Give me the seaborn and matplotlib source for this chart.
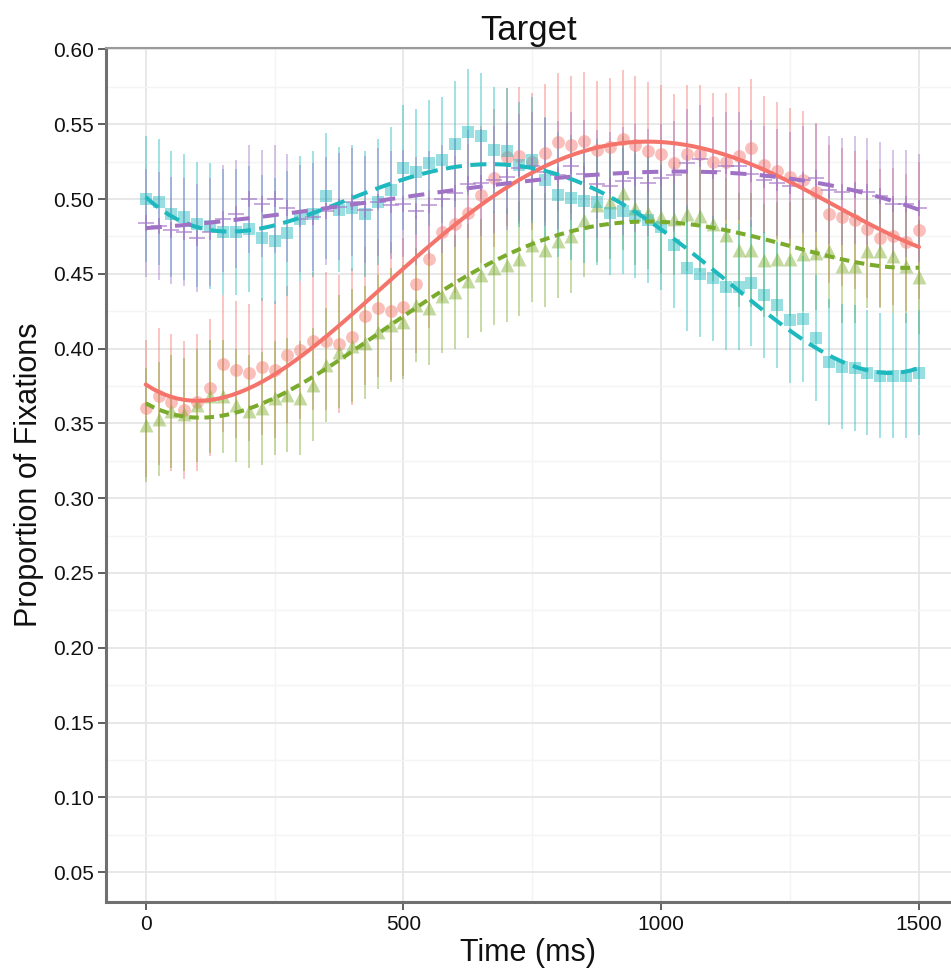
import numpy as np
import pandas as pd
import matplotlib
matplotlib.use("Agg")
import matplotlib.pyplot as plt
from matplotlib.ticker import FixedLocator
import seaborn as sns

# Time bins (ms)
time_ms = list(range(0, 1501, 25))

# Mean proportion of fixations on the target, per condition
cond_a = [0.360, 0.368, 0.364, 0.359, 0.364, 0.374, 0.390, 0.386, 0.384, 0.388,
          0.386, 0.396, 0.399, 0.405, 0.405, 0.403, 0.408, 0.422, 0.427, 0.425,
          0.428, 0.443, 0.460, 0.478, 0.483, 0.491, 0.503, 0.514, 0.528, 0.529,
          0.525, 0.531, 0.538, 0.536, 0.539, 0.533, 0.535, 0.540, 0.536, 0.532,
          0.530, 0.524, 0.530, 0.530, 0.525, 0.525, 0.529, 0.534, 0.523, 0.519,
          0.515, 0.513, 0.505, 0.490, 0.488, 0.486, 0.480, 0.474, 0.475, 0.471,
          0.479]
cond_b = [0.349, 0.353, 0.358, 0.356, 0.362, 0.368, 0.368, 0.362, 0.358, 0.360,
          0.367, 0.369, 0.367, 0.376, 0.389, 0.398, 0.402, 0.404, 0.411, 0.416,
          0.418, 0.429, 0.427, 0.435, 0.438, 0.445, 0.449, 0.454, 0.456, 0.460,
          0.469, 0.466, 0.472, 0.475, 0.486, 0.496, 0.498, 0.504, 0.494, 0.491,
          0.488, 0.487, 0.490, 0.489, 0.483, 0.476, 0.466, 0.466, 0.459, 0.460,
          0.460, 0.463, 0.464, 0.465, 0.455, 0.455, 0.465, 0.465, 0.462, 0.455,
          0.448]
cond_c = [0.500, 0.498, 0.490, 0.488, 0.483, 0.482, 0.478, 0.478, 0.480, 0.474,
          0.472, 0.477, 0.487, 0.490, 0.502, 0.493, 0.494, 0.490, 0.498, 0.506,
          0.521, 0.518, 0.524, 0.526, 0.537, 0.545, 0.542, 0.533, 0.532, 0.523,
          0.526, 0.513, 0.503, 0.501, 0.499, 0.498, 0.491, 0.492, 0.489, 0.486,
          0.481, 0.469, 0.454, 0.450, 0.447, 0.441, 0.441, 0.444, 0.436, 0.429,
          0.419, 0.420, 0.407, 0.391, 0.388, 0.387, 0.384, 0.382, 0.382, 0.382,
          0.384]
cond_d = [0.484, 0.482, 0.479, 0.478, 0.474, 0.478, 0.487, 0.490, 0.500, 0.497,
          0.500, 0.494, 0.487, 0.488, 0.492, 0.495, 0.498, 0.493, 0.498, 0.496,
          0.497, 0.492, 0.496, 0.500, 0.504, 0.510, 0.511, 0.513, 0.515, 0.521,
          0.522, 0.518, 0.516, 0.522, 0.517, 0.510, 0.509, 0.512, 0.514, 0.511,
          0.514, 0.516, 0.524, 0.527, 0.519, 0.522, 0.522, 0.517, 0.513, 0.511,
          0.509, 0.513, 0.514, 0.506, 0.505, 0.506, 0.505, 0.502, 0.497, 0.497,
          0.494]

# Standard error half-widths per condition
se_a, se_b, se_c, se_d = 0.046, 0.038, 0.042, 0.036

series = [
    dict(y=cond_a, se=se_a, color="#F4736A", marker="o", size=85, ls="-"),
    dict(y=cond_b, se=se_b, color="#7AAB2C", marker="^", size=100, ls=(0, (2.4, 1.4))),
    dict(y=cond_c, se=se_c, color="#1DB9BE", marker="s", size=80, ls=(0, (4.0, 2.1))),
    dict(y=cond_d, se=se_d, color="#A072C6", marker="+", size=130, ls=(0, (4.0, 3.3))),
]

sns.set_theme(style="whitegrid")
plt.rcParams["font.family"] = ["Liberation Sans", "DejaVu Sans"]

fig = plt.figure(figsize=(9.51, 9.76), dpi=100)
ax = fig.add_axes([106 / 951, 1 - 902 / 976, 1 - 106 / 951, (902 - 48) / 976])
ax.set_facecolor("white")

t = np.array(time_ms)
for s in series:
    y = np.array(s["y"])
    ax.vlines(t, y - s["se"], y + s["se"], color=s["color"], alpha=0.45,
              lw=1.3, zorder=2)
for s in series:
    df = pd.DataFrame({"t": time_ms, "p": s["y"]})
    if s["marker"] == "+":
        sns.scatterplot(data=df, x="t", y="p", marker="+", s=s["size"],
                        color=s["color"], alpha=0.7, linewidth=1.2, ax=ax,
                        zorder=3)
    else:
        sns.scatterplot(data=df, x="t", y="p", marker=s["marker"], s=s["size"],
                        color=s["color"], alpha=0.45, linewidth=0, ax=ax,
                        zorder=3)
# Fourth-order polynomial growth curves
for s in series:
    df = pd.DataFrame({"t": time_ms, "p": s["y"]})
    sns.regplot(data=df, x="t", y="p", order=4, scatter=False, ci=None,
                ax=ax, color=s["color"],
                line_kws=dict(lw=2.9, ls=s["ls"], zorder=4, alpha=1.0))

ax.set_xlim(-77, 1562)
ax.set_ylim(0.03, 0.601)
ax.xaxis.set_major_locator(FixedLocator([0, 500, 1000, 1500]))
ax.xaxis.set_minor_locator(FixedLocator([250, 750, 1250]))
ax.yaxis.set_major_locator(FixedLocator(np.round(np.arange(0.05, 0.601, 0.05), 2)))
ax.yaxis.set_minor_locator(FixedLocator(np.round(np.arange(0.075, 0.6, 0.05), 3)))
ax.set_yticklabels([f"{v:.2f}" for v in np.arange(0.05, 0.601, 0.05)])

ax.grid(which="major", color="#E4E4E4", lw=1.2)
ax.grid(which="minor", color="#F4F4F4", lw=1.0)
ax.set_axisbelow(True)

for side in ("left", "bottom", "top"):
    ax.spines[side].set_visible(True)
    ax.spines[side].set_color("#707070")
    ax.spines[side].set_linewidth(2.2)
ax.spines["top"].set_linewidth(1.5)
ax.spines["top"].set_color("#9A9A9A")
ax.spines["right"].set_visible(False)

ax.tick_params(axis="both", which="major", direction="out", length=6,
               width=1.1, color="#333333", labelsize=15, labelcolor="#111111",
               pad=3, left=True, bottom=True)
ax.tick_params(axis="both", which="minor", length=0)

ax.set_title("Target", fontsize=25, pad=6, color="#111111")
ax.set_xlabel("Time (ms)", fontsize=22, labelpad=3, color="#111111")
ax.set_ylabel("Proportion of Fixations", fontsize=22, labelpad=6, color="#111111")

fig.savefig("out.png", dpi=100)
